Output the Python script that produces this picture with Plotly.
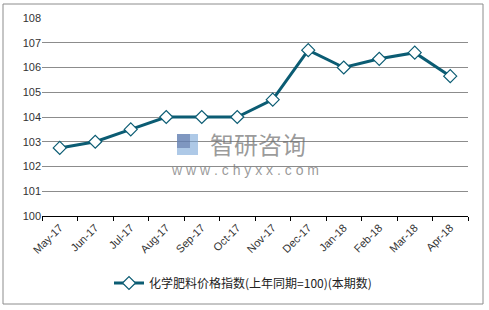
import plotly.graph_objects as go

months = ["May-17", "Jun-17", "Jul-17", "Aug-17", "Sep-17", "Oct-17", "Nov-17",
          "Dec-17", "Jan-18", "Feb-18", "Mar-18", "Apr-18"]
values = [102.75, 103.0, 103.5, 104.0, 104.0, 104.0, 104.7, 106.7, 106.0, 106.35, 106.6, 105.65]
series_name = "化学肥料价格指数(上年同期=100)(本期数)"
y_ticks = [100, 101, 102, 103, 104, 105, 106, 107, 108]

color = "#0B5C73"
L, R, T, B = 42, 21, 18, 94
W, H = 489, 310
pw, ph = W - L - R, H - T - B

def px_x(x):
    return (x - L) / pw

def px_y(y):
    return (H - B - y) / ph

fig = go.Figure()
fig.add_trace(go.Scatter(
    x=months, y=values, mode="lines+markers", name=series_name,
    line=dict(color=color, width=3),
    marker=dict(symbol="diamond", size=10, color="white", line=dict(color=color, width=1.2)),
))

fig.update_layout(
    width=W, height=H,
    margin=dict(l=L, r=R, t=T, b=B),
    paper_bgcolor="white", plot_bgcolor="white",
    font=dict(family="Liberation Sans, Arial, sans-serif", size=11, color="#333333"),
    showlegend=True,
    legend=dict(orientation="h", x=px_x(243), xanchor="center", y=px_y(283), yanchor="middle",
                font=dict(family="Noto Sans CJK SC, Liberation Sans, sans-serif", size=12, color="#222222"),
                bgcolor="rgba(0,0,0,0)"),
    xaxis=dict(type="category", range=[-0.5, 11.5], tickangle=-45, tickson="boundaries",
               ticks="outside", ticklen=4, tickcolor="#000000", showline=True, linecolor="#000000",
               linewidth=1, showgrid=False, zeroline=False,
               tickfont=dict(size=11, color="#333333")),
    yaxis=dict(range=[100, 108], tickvals=y_ticks, showgrid=True, gridcolor="#8c8c8c",
               gridwidth=1, zeroline=False, showline=False, ticks="",
               tickfont=dict(size=11, color="#333333")),
    shapes=[
        dict(type="rect", xref="paper", yref="paper",
             x0=px_x(3), x1=px_x(483), y0=px_y(304), y1=px_y(4),
             line=dict(color="#8c8c8c", width=1), fillcolor="rgba(0,0,0,0)", layer="below"),
        dict(type="rect", xref="paper", yref="paper",
             x0=px_x(177), x1=px_x(198), y0=px_y(155), y1=px_y(134),
             line=dict(width=0), fillcolor="rgba(120,165,215,0.6)", layer="above"),
        dict(type="rect", xref="paper", yref="paper",
             x0=px_x(177), x1=px_x(190), y0=px_y(148), y1=px_y(134),
             line=dict(width=0), fillcolor="rgba(90,110,160,0.55)", layer="above"),
    ],
    annotations=[
        dict(text="智研咨询", xref="paper", yref="paper", x=px_x(258), y=px_y(143),
             showarrow=False, xanchor="center", yanchor="middle",
             font=dict(family="Noto Sans CJK SC", size=24, color="rgba(110,110,110,0.7)")),
        dict(text="w w w . c h y x x . c o m", xref="paper", yref="paper", x=px_x(245), y=px_y(170),
             showarrow=False, xanchor="center", yanchor="middle",
             font=dict(family="Liberation Sans", size=14, color="rgba(110,110,110,0.7)")),
    ],
)

fig.write_html("out.html")
